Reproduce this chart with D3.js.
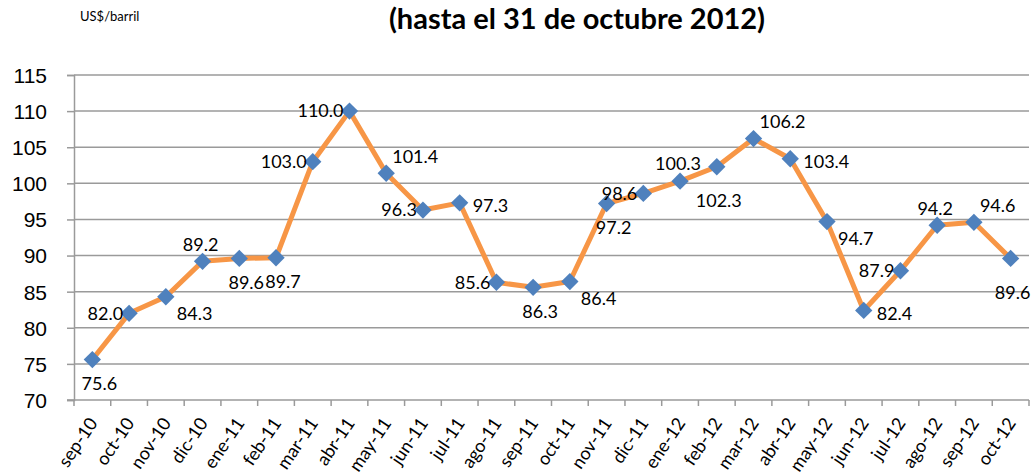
<!DOCTYPE html>
<html>
<head>
<meta charset="utf-8">
<script src="https://cdn.jsdelivr.net/npm/d3@7"></script>
<style>
  body { margin: 0; background: #fff; }
  svg { font-family: Lato, "Open Sans", sans-serif; }
</style>
</head>
<body>
<svg id="draw"></svg>
<script>
// monthly crude price, US$/barril
var months = ["sep-10", "oct-10", "nov-10", "dic-10", "ene-11", "feb-11", "mar-11", "abr-11",
  "may-11", "jun-11", "jul-11", "ago-11", "sep-11", "oct-11", "nov-11", "dic-11", "ene-12",
  "feb-12", "mar-12", "abr-12", "may-12", "jun-12", "jul-12", "ago-12", "sep-12", "oct-12"];

var prices = [75.6, 82.0, 84.3, 89.2, 89.6, 89.7, 103.0, 110.0, 101.4, 96.3, 97.3, 86.3, 85.6,
  86.4, 97.2, 98.6, 100.3, 102.3, 106.2, 103.4, 94.7, 82.4, 87.9, 94.2, 94.6, 89.6];

// text of the data labels as printed on the chart
var labels = ["75.6", "82.0", "84.3", "89.2", "89.6", "89.7", "103.0", "110.0", "101.4", "96.3",
  "97.3", "85.6", "86.3", "86.4", "97.2", "98.6", "100.3", "102.3", "106.2", "103.4", "94.7",
  "82.4", "87.9", "94.2", "94.6", "89.6"];

// where each label sits relative to its marker
var labelSide = ["b", "l", "br", "a", "b", "b", "l", "l", "ar", "l", "r", "l", "b", "br", "b",
  "l", "a", "bb", "ar", "r", "br", "r", "l", "a", "ar", "bb"];

var yTicks = [70, 75, 80, 85, 90, 95, 100, 105, 110, 115];

var width = 1032, height = 476;
var margin = {top: 75, right: 3, bottom: 76, left: 74};

var sides = {
  b:  {anchor: "middle", dx: 7,   dy: 24},
  bb: {anchor: "middle", dx: 2,   dy: 34},
  br: {anchor: "start",  dx: 11,  dy: 17},
  r:  {anchor: "start",  dx: 13,  dy: 3},
  ar: {anchor: "start",  dx: 6,   dy: -17},
  a:  {anchor: "middle", dx: -2,  dy: -17},
  l:  {anchor: "end",    dx: -6,  dy: 0}
};

var svg = d3.select("#draw")
  .attr("width", width)
  .attr("height", height);

var x = d3.scaleBand()
  .domain(months)
  .range([margin.left, width - margin.right]);

var y = d3.scaleLinear()
  .domain([70, 115])
  .range([height - margin.bottom, margin.top]);

// gridlines
svg.append("g")
  .selectAll("line")
  .data(yTicks.slice(1))
  .enter().append("line")
  .attr("x1", margin.left)
  .attr("x2", width - margin.right)
  .attr("y1", d => y(d))
  .attr("y2", d => y(d))
  .attr("stroke", "#9a9a9a")
  .attr("stroke-width", 1.5);

// y axis
var yAxis = svg.append("g")
  .attr("transform", "translate(" + margin.left + ",0)")
  .call(d3.axisLeft(y).tickValues(yTicks).tickSize(7).tickPadding(20));
yAxis.select(".domain").attr("stroke", "#9a9a9a").attr("stroke-width", 1.5);
yAxis.selectAll(".tick line").attr("stroke", "#9a9a9a").attr("stroke-width", 1.5);
yAxis.selectAll("text")
  .attr("fill", "#000")
  .style("font-size", "21px")
  .attr("dy", "0.35em");

// x axis, ticks on category boundaries
var xBase = y(70);
var xAxis = svg.append("g");
xAxis.append("line")
  .attr("x1", margin.left - 7)
  .attr("x2", width - margin.right)
  .attr("y1", xBase)
  .attr("y2", xBase)
  .attr("stroke", "#9a9a9a")
  .attr("stroke-width", 1.5);

xAxis.selectAll(".xt")
  .data(months.concat(["end"]))
  .enter().append("line")
  .attr("class", "xt")
  .attr("x1", (d, i) => margin.left + i * x.bandwidth())
  .attr("x2", (d, i) => margin.left + i * x.bandwidth())
  .attr("y1", xBase)
  .attr("y2", xBase + 6)
  .attr("stroke", "#9a9a9a")
  .attr("stroke-width", 1.5);

xAxis.selectAll(".xl")
  .data(months)
  .enter().append("text")
  .attr("class", "xl")
  .attr("text-anchor", "end")
  .attr("transform", d => "translate(" + (x(d) + x.bandwidth() / 2 + 6) + "," + (xBase + 23) + ") rotate(-56)")
  .style("font-size", "18px")
  .attr("fill", "#000")
  .text(d => d);

// price line
var line = d3.line()
  .x((d, i) => x(months[i]) + x.bandwidth() / 2)
  .y(d => y(d));

svg.append("path")
  .datum(prices)
  .attr("d", line)
  .attr("fill", "none")
  .attr("stroke", "#f79646")
  .attr("stroke-width", 5)
  .attr("stroke-linejoin", "round");

// diamond markers
var diamond = d3.symbol().type(d3.symbolSquare).size(150);
svg.selectAll(".pt")
  .data(prices)
  .enter().append("path")
  .attr("class", "pt")
  .attr("d", diamond)
  .attr("transform", (d, i) => "translate(" + (x(months[i]) + x.bandwidth() / 2) + "," + y(d) + ") rotate(45)")
  .attr("fill", "#4f81bd");

// data labels
svg.selectAll(".lbl")
  .data(prices)
  .enter().append("text")
  .attr("class", "lbl")
  .attr("x", (d, i) => x(months[i]) + x.bandwidth() / 2 + sides[labelSide[i]].dx)
  .attr("y", (d, i) => y(d) + sides[labelSide[i]].dy)
  .attr("dy", "0.35em")
  .attr("text-anchor", (d, i) => sides[labelSide[i]].anchor)
  .style("font-size", "18px")
  .attr("fill", "#000")
  .text((d, i) => labels[i]);

// titles
svg.append("text")
  .attr("x", 577)
  .attr("y", 29)
  .attr("text-anchor", "middle")
  .style("font-size", "29px")
  .style("font-weight", "bold")
  .text("(hasta el 31 de octubre 2012)");

svg.append("text")
  .attr("x", 80)
  .attr("y", 21)
  .style("font-size", "13px")
  .text("US$/barril");
</script>
</body>
</html>
